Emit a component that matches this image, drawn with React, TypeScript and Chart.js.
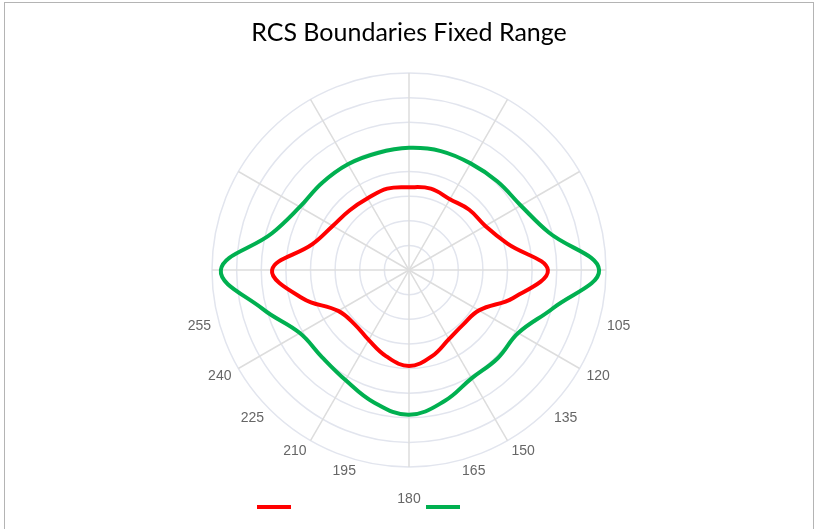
import React, { useEffect, useRef } from 'react';
import { Chart, registerables } from 'chart.js';

Chart.register(...registerables);

const TITLE = 'RCS Boundaries Fixed Range';

const CATEGORIES = [
  '0', '15', '30', '45', '60', '75', '90', '105', '120', '135', '150', '165',
  '180', '195', '210', '225', '240', '255', '270', '285', '300', '315', '330', '345',
];

const SHOWN_LABELS = ['105', '120', '135', '150', '165', '180', '195', '210', '225', '240', '255'];

const SERIES_NAMES = ['Inner boundary', 'Outer boundary'];

const INNER_BOUNDARY = [
  16.8, 17.1, 16.6, 17.3, 17.9, 20.7, 28.2, 21.9, 16.4, 15.6, 16.2, 18.1,
  19.5, 18.1, 16.4, 15.6, 16.6, 22.3, 27.8, 20.3, 17.9, 17.1, 16.8, 17.1,
];

const OUTER_BOUNDARY = [
  24.8, 25.0, 25.0, 25.4, 26.2, 29.4, 38.6, 30.2, 25.6, 25.4, 25.4, 27.6,
  29.4, 27.8, 25.8, 25.0, 25.6, 30.7, 38.2, 28.8, 25.6, 25.0, 24.8, 24.6,
];

const SCALE_MIN = 0;
const SCALE_MAX = 40;
const SCALE_STEP = 5;

const COLORS = ['#ff0000', '#00b050'];

const legendLines = {
  id: 'legendLines',
  afterDraw(chart: any) {
    const { ctx } = chart;
    const cx = chart.width / 2;
    const y = chart.height - 22;
    const offsets = [-152, 17];
    chart.data.datasets.forEach((ds: any, i: number) => {
      ctx.save();
      ctx.strokeStyle = ds.borderColor;
      ctx.lineWidth = 4;
      ctx.beginPath();
      ctx.moveTo(cx + offsets[i], y);
      ctx.lineTo(cx + offsets[i] + 34, y);
      ctx.stroke();
      ctx.restore();
    });
  },
};

export default function App() {
  const canvasRef = useRef<HTMLCanvasElement | null>(null);

  useEffect(() => {
    if (!canvasRef.current) return;
    const chart = new Chart(canvasRef.current, {
      type: 'radar',
      data: {
        labels: CATEGORIES,
        datasets: [
          {
            label: SERIES_NAMES[0],
            data: INNER_BOUNDARY,
            borderColor: COLORS[0],
            backgroundColor: 'transparent',
            borderWidth: 4,
            pointRadius: 0,
            fill: false,
            tension: 0.4,
          },
          {
            label: SERIES_NAMES[1],
            data: OUTER_BOUNDARY,
            borderColor: COLORS[1],
            backgroundColor: 'transparent',
            borderWidth: 4,
            pointRadius: 0,
            fill: false,
            tension: 0.4,
          },
        ],
      },
      options: {
        responsive: false,
        animation: false,
        layout: { padding: { top: 0, bottom: 8, left: 0, right: 0 } },
        plugins: {
          legend: { display: false },
          tooltip: { enabled: false },
          title: {
            display: true,
            text: TITLE,
            color: '#000000',
            font: { family: 'Lato, "Open Sans", sans-serif', size: 25, weight: 'normal' },
            padding: { top: 16, bottom: 8 },
          },
        },
        scales: {
          r: {
            min: SCALE_MIN,
            max: SCALE_MAX,
            ticks: { display: false, stepSize: SCALE_STEP },
            grid: { circular: true, color: '#e2e5ee', lineWidth: 1.5 },
            angleLines: {
              color: (ctx: any) => (ctx.index % 2 === 0 ? '#dddddd' : 'rgba(0,0,0,0)'),
              lineWidth: 1.5,
            },
            pointLabels: {
              callback: (label: string) => (SHOWN_LABELS.includes(label) ? label : ''),
              color: '#666666',
              font: (ctx: any) =>
                ctx.label === ''
                  ? { size: 1, lineHeight: 0.5 }
                  : { family: '"Liberation Sans", Arial, sans-serif', size: 14, lineHeight: 0.5 },
              padding: (ctx: any) => (ctx.label === '' ? 0 : ctx.label === '180' ? 29 : 8),
            },
          },
        },
      },
      plugins: [legendLines],
    });
    return () => chart.destroy();
  }, []);

  return (
    <div style={{ position: 'absolute', left: 0, top: 0, width: 814, height: 529, overflow: 'hidden', background: '#fff' }}>
      <div
        style={{
          position: 'absolute',
          left: 4,
          top: 2,
          width: 810,
          height: 600,
          boxSizing: 'border-box',
          border: '1px solid #b4b4b4',
        }}
      />
      <canvas ref={canvasRef} width={810} height={527} style={{ position: 'absolute', left: 4, top: 2 }} />
    </div>
  );
}
